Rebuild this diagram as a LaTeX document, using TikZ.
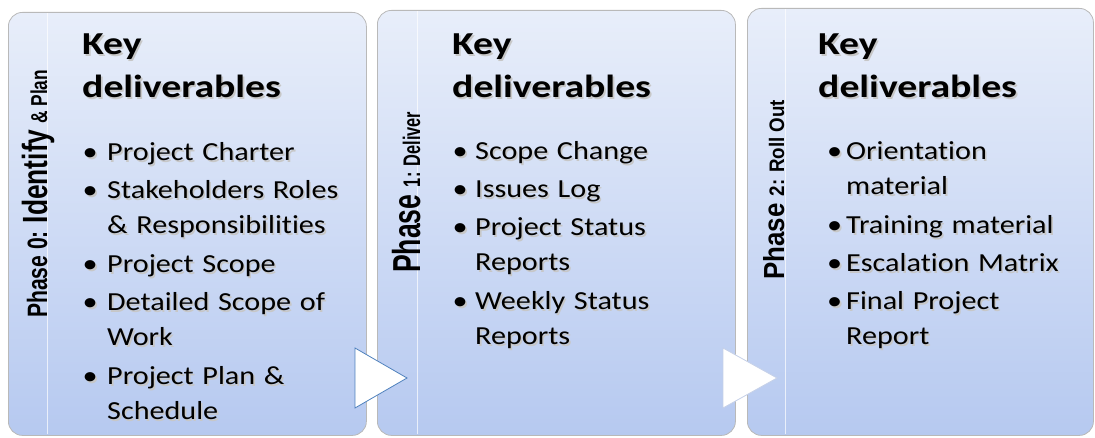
\documentclass[tikz,border=0pt]{standalone}
\usepackage{fontspec}
\usepackage{graphicx}
\setmainfont{Carlito}[FakeStretch=1.16,WordSpace=0.6,Ligatures=NoCommon]
\newfontfamily\headfont{Carlito}[FakeStretch=1.24]
\newfontfamily\phasefont{Liberation Sans}
\usetikzlibrary{positioning}

\definecolor{boxtop}{HTML}{E8EEFA}
\definecolor{boxbot}{HTML}{B6C9F0}
\definecolor{arrowline}{HTML}{4F81BD}
\definecolor{arrowpale}{HTML}{C5D0E8}

\newlength\delivindent
\newcommand\deliv[1]{\par\noindent\makebox[\delivindent][l]{\strut\textbullet}%
  \parbox[t]{260pt}{\strut#1\strut}\par\vspace{3pt}}
% box contents
\newcommand\keyhead{Key\\deliverables}
\newcommand\delivzero{\setlength\delivindent{24.5pt}%
  \deliv{Project Charter}
  \deliv{Stakeholders Roles\\\& Responsibilities}
  \deliv{Project Scope}
  \deliv{Detailed Scope of\\Work}
  \deliv{Project Plan \&\\Schedule}}
\newcommand\delivone{\setlength\delivindent{22.5pt}%
  \deliv{Scope Change}
  \deliv{Issues Log}
  \deliv{Project Status\\Reports}
  \deliv{Weekly Status\\Reports}}
\newcommand\delivtwo{\setlength\delivindent{19pt}%
  \deliv{Orientation\\material}
  \deliv{Training material}
  \deliv{Escalation Matrix}
  \deliv{Final Project\\Report}}

\begin{document}
\begin{tikzpicture}[x=1pt,y=-1pt,
  phasebox/.style={rounded corners=14pt,draw=gray!55,line width=0.8pt,
    top color=boxtop,bottom color=boxbot,anchor=north west,inner sep=0pt},
  phaselabel/.style={rotate=90,anchor=base west,inner sep=0pt,font=\phasefont\bfseries},
  headtext/.style={anchor=base west,inner sep=0pt,align=left,
    font=\headfont\bfseries\fontsize{32}{43}\selectfont},
  listtext/.style={anchor=north west,inner sep=0pt,text width=300pt,
    font=\fontsize{26}{35}\selectfont},
  textshadow/.style={text=black!22,xshift=1.6pt,yshift=-1.6pt},
  stepmark/.style={fill=white,line width=0.8pt,line join=miter}]
\useasboundingbox (0,0) rectangle (1095,438);

% phase boxes
\node[phasebox,minimum width=358pt,minimum height=423pt] (box0) at (8,12) {};
\node[phasebox,minimum width=358pt,minimum height=425pt] (box1) at (377,10) {};
\node[phasebox,minimum width=346pt,minimum height=427pt] (box2) at (747,8) {};
\foreach \x/\ya in {47/13,417/11,785/9}
  \draw[white,opacity=0.7] (\x,\ya) -- (\x,434);

% vertical phase names
\node[phaselabel] (ph0) at (47,318) {\resizebox{248pt}{\height}{%
  \fontsize{28}{28}\selectfont Phase 0: {\fontsize{35}{35}\selectfont Identify}
  {\fontsize{23}{23}\selectfont \& Plan}}};
\node[phaselabel] (ph1) at (420,273) {\resizebox{161pt}{\height}{%
  \fontsize{39}{39}\selectfont Phase {\fontsize{24}{24}\selectfont 1: Deliver}}};
\node[phaselabel] (ph2) at (784,280) {\resizebox{180pt}{\height}{%
  \fontsize{29}{29}\selectfont Phase {\fontsize{21}{21}\selectfont 2: Roll Out}}};

% headings and deliverables, each over its soft shadow
\foreach \x/\n in {82/0,452/1,818/2} {
  \node[headtext,textshadow] at (\x,98) {\keyhead};
  \node[headtext] (key\n) at (\x,98) {\keyhead};
}
\node[listtext,textshadow] at (82.5,125.5) {\delivzero};
\node[listtext] (list0) at (82.5,125.5) {\delivzero};
\node[listtext,textshadow] at (452.5,124.5) {\delivone};
\node[listtext] (list1) at (452.5,124.5) {\delivone};
\node[listtext,textshadow] at (827,124.5) {\delivtwo};
\node[listtext] (list2) at (827,124.5) {\delivtwo};

% step arrows
\draw[stepmark,draw=arrowline] (355,348) -- (355,408) -- (407,378) -- cycle;
\draw[stepmark,draw=arrowpale] (723,348) -- (723,408) -- (777,378) -- cycle;
\end{tikzpicture}
\end{document}
